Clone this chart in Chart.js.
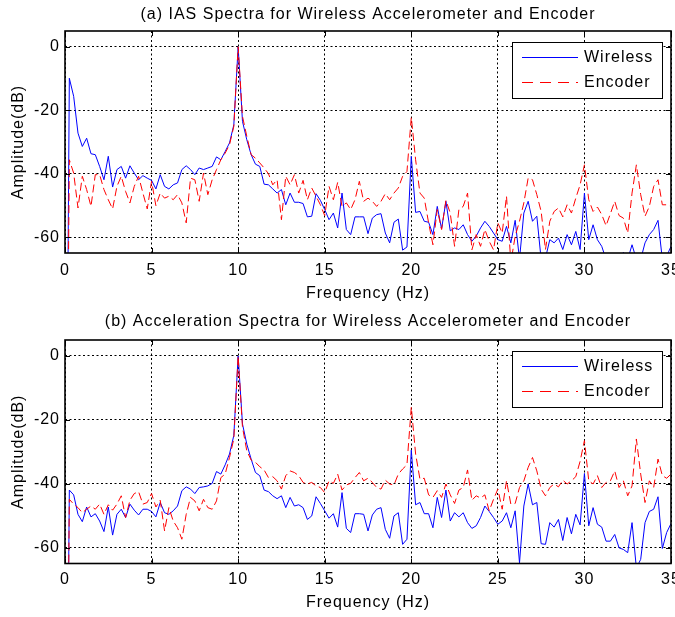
<!DOCTYPE html>
<html>
<head>
<meta charset="utf-8">
<title>IAS and acceleration spectra</title>
<script src="https://cdn.jsdelivr.net/npm/chart.js@4.4.1/dist/chart.umd.min.js"></script>
<style>
  html, body { margin: 0; padding: 0; background: #fff; }
  #wrap { position: relative; width: 675px; height: 617px; overflow: hidden; }
  canvas { position: absolute; left: 0; }
  #iasChart { top: 0; }
  #accChart { top: 310px; }
</style>
</head>
<body>
<div id="wrap">
  <canvas id="iasChart" width="675" height="310"></canvas>
  <canvas id="accChart" width="675" height="307"></canvas>
</div>
<script>
// spectrum bins: one every 0.25 Hz, 0..35 Hz (10 values per row = 2.5 Hz)
const FREQ_STEP = 0.25;
const xTicks = [0, 5, 10, 15, 20, 25, 30, 35];
const yTicks = [-60, -40, -20, 0];
const Y_MIN = -65;
const Y_MAX = 5;

// (a) IAS spectra, dB
const iasWireless = [
  -200, -9.9, -15.6, -27.2, -31.4, -28.8, -33.7, -34.0, -37.7, -41.9,
  -34.5, -44.2, -38.7, -37.7, -41.4, -37.5, -39.8, -41.9, -40.6, -41.4,
  -42.1, -44.8, -40.3, -44.0, -44.8, -43.5, -42.9, -38.7, -37.5, -38.7,
  -40.3, -38.2, -38.7, -38.2, -37.7, -34.7, -35.6, -33.0, -30.3, -24.6,
  0, -23.5, -29.3, -34.0, -37.0, -37.7, -43.3, -43.5, -44.8, -46.1,
  -45.0, -49.8, -46.1, -49.0, -49.0, -49.4, -53.6, -53.4, -46.3, -48.4,
  -51.3, -54.5, -52.4, -57.1, -46.1, -57.6, -59.2, -53.6, -53.6, -53.6,
  -58.9, -54.0, -52.9, -52.6, -58.7, -61.8, -55.3, -54.3, -64.1, -63.1,
  -34.5, -52.2, -51.9, -55.0, -55.3, -59.2, -50.3, -57.4, -48.7, -58.0,
  -57.1, -57.6, -56.1, -59.2, -61.3, -59.7, -57.1, -55.0, -56.6, -58.7,
  -60.8, -61.3, -56.6, -61.8, -54.7, -67, -52.4, -48.7, -55.0, -53.4,
  -67, -66.6, -60.8, -61.8, -60.3, -63.9, -59.2, -62.4, -58.2, -63.9,
  -46.1, -60.8, -56.1, -60.8, -62.9, -67, -67, -68, -67, -64.8,
  -67, -62.4, -67, -67, -61.8, -59.2, -57.6, -54.7, -67, -66,
  -62.9
];
const iasEncoder = [
  -200, -35.6, -39.8, -50.8, -40.8, -45.0, -50.3, -40.3, -40.3, -45.0,
  -48.2, -51.1, -44.0, -40.8, -45.6, -49.2, -44.0, -40.8, -46.1, -51.1,
  -42.4, -50.1, -46.1, -47.7, -47.1, -48.2, -46.6, -49.2, -55.5, -41.4,
  -41.9, -48.7, -39.8, -46.6, -41.9, -38.7, -35.6, -33.5, -30.9, -25.1,
  0, -21.9, -28.2, -34.0, -35.1, -36.6, -38.2, -40.0, -43.5, -41.9,
  -54.5, -40.8, -43.5, -40.3, -46.1, -42.1, -48.2, -44.5, -47.1, -49.8,
  -53.2, -44.0, -48.2, -42.7, -50.3, -49.2, -51.3, -48.2, -42.4, -48.7,
  -47.7, -48.7, -50.3, -48.7, -46.3, -48.2, -46.1, -44.5, -40.8, -39.3,
  -22.2, -35.6, -46.1, -47.7, -55.5, -62.4, -51.3, -57.6, -48.4, -52.4,
  -62.9, -51.3, -50.3, -46.1, -64.0, -59.2, -62.9, -57.6, -61.3, -64.0,
  -55.5, -58.7, -47.1, -68, -59.7, -55.0, -49.2, -41.4, -41.9, -46.6,
  -51.9, -63.9, -55.0, -51.9, -50.8, -53.6, -49.8, -52.4, -47.7, -43.5,
  -37.2, -48.2, -51.9, -50.5, -52.9, -56.4, -52.6, -48.7, -53.2, -54.0,
  -58.7, -46.1, -37.2, -46.6, -53.4, -50.3, -44.0, -41.9, -49.8, -49.8,
  -50.3
];

// (b) acceleration spectra, dB
const accWireless = [
  -200, -42.0, -43.5, -49.6, -51.9, -47.3, -50.4, -49.4, -51.7, -55.0,
  -47.3, -56.1, -49.6, -48.0, -50.6, -46.4, -48.3, -49.8, -48.0, -48.0,
  -48.7, -50.4, -45.9, -49.1, -49.6, -48.5, -47.0, -42.2, -41.0, -41.7,
  -43.1, -41.2, -41.0, -40.7, -39.9, -36.2, -37.0, -34.1, -30.7, -24.9,
  0, -21.3, -27.6, -32.3, -36.5, -37.5, -42.0, -42.5, -43.8, -44.7,
  -43.8, -47.5, -44.3, -47.0, -46.6, -47.5, -51.2, -50.1, -44.1, -46.2,
  -48.5, -50.8, -49.4, -53.6, -42.8, -54.0, -55.3, -49.4, -49.4, -49.6,
  -54.8, -49.8, -48.0, -47.5, -54.3, -57.1, -50.1, -49.1, -59.0, -57.4,
  -29.5, -46.6, -45.9, -49.4, -49.4, -53.8, -44.3, -50.6, -42.0, -51.7,
  -49.1, -50.4, -49.1, -52.2, -54.0, -53.2, -50.6, -47.0, -48.7, -50.6,
  -52.7, -51.7, -49.1, -53.8, -48.5, -64.8, -47.0, -40.1, -46.6, -45.9,
  -58.8, -59.0, -52.2, -53.6, -51.2, -57.8, -50.6, -55.7, -49.6, -52.9,
  -36.8, -53.2, -47.5, -52.7, -53.6, -58.0, -58.0, -55.9, -60.1, -60.6,
  -61.6, -52.2, -66.4, -63.7, -52.2, -48.7, -48.0, -44.1, -60.3, -55.3,
  -52.5
];
const accEncoder = [
  -200, -44.9, -46.4, -47.5, -49.1, -48.0, -47.0, -48.0, -46.4, -49.6,
  -46.6, -48.3, -46.4, -43.8, -50.6, -45.2, -43.1, -42.5, -46.4, -45.9,
  -43.1, -47.3, -45.2, -54.8, -47.5, -51.7, -53.8, -57.4, -49.6, -44.3,
  -45.4, -48.5, -44.9, -47.5, -48.0, -45.4, -38.1, -37.0, -31.8, -26.0,
  0, -22.3, -29.7, -32.6, -33.3, -34.7, -35.7, -38.1, -37.8, -39.1,
  -41.7, -37.5, -36.0, -36.5, -37.5, -39.6, -40.1, -39.6, -40.7, -41.2,
  -42.8, -39.1, -39.9, -37.0, -42.0, -40.4, -39.9, -38.1, -36.5, -39.1,
  -38.3, -39.6, -41.2, -41.7, -38.9, -40.1, -40.4, -37.0, -35.4, -34.1,
  -16.0, -30.7, -38.6, -38.3, -43.5, -44.3, -42.2, -44.3, -40.1, -43.5,
  -46.2, -42.0, -41.2, -35.7, -45.2, -43.8, -44.5, -43.5, -48.5, -44.9,
  -41.7, -48.0, -39.1, -46.4, -46.2, -41.2, -39.1, -34.9, -31.8, -36.0,
  -41.7, -43.8, -41.2, -40.1, -41.0, -38.9, -40.1, -39.1, -37.8, -33.0,
  -26.5, -39.1, -40.1, -37.5, -41.2, -39.6, -39.1, -36.0, -41.2, -39.1,
  -43.8, -40.7, -26.0, -37.0, -45.9, -39.1, -41.2, -32.3, -37.5, -38.3,
  -37.0
];

const FONT = { family: "'Liberation Sans', Arial, Helvetica, sans-serif", size: 16, weight: "normal" };

function toPoints(values) {
  return values.map((v, i) => ({ x: i * FREQ_STEP, y: v }));
}

// slightly wider text, like the old figure export
const spacingPlugin = {
  id: "spacing",
  beforeUpdate(chart) { chart.ctx.letterSpacing = "1px"; },
  beforeDraw(chart) { chart.ctx.letterSpacing = "1px"; }
};

// axes box with short inward tick marks on all four sides
const boxPlugin = {
  id: "axesBox",
  afterDatasetsDraw(chart) {
    const { ctx, chartArea: a, scales } = chart;
    ctx.save();
    ctx.strokeStyle = "#000";
    ctx.setLineDash([]);
    ctx.lineWidth = 1;
    ctx.beginPath();
    xTicks.forEach(v => {
      const px = Math.round(scales.x.getPixelForValue(v)) + 0.5;
      ctx.moveTo(px, a.bottom); ctx.lineTo(px, a.bottom - 5);
      ctx.moveTo(px, a.top); ctx.lineTo(px, a.top + 5);
    });
    yTicks.forEach(v => {
      const py = Math.round(scales.y.getPixelForValue(v)) + 0.5;
      ctx.moveTo(a.left, py); ctx.lineTo(a.left + 5, py);
      ctx.moveTo(a.right, py); ctx.lineTo(a.right - 5, py);
    });
    ctx.stroke();
    ctx.lineWidth = 1.6;
    ctx.strokeRect(a.left, a.top, a.right - a.left, a.bottom - a.top);
    ctx.restore();
  }
};

// boxed legend in the upper right corner of the axes
const legendPlugin = {
  id: "boxLegend",
  afterDatasetsDraw(chart) {
    const { ctx, chartArea: a } = chart;
    const w = 150, h = 56;
    const left = Math.round(a.right) - 159;
    const top = Math.round(a.top) + 11;
    ctx.save();
    ctx.fillStyle = "#fff";
    ctx.fillRect(left, top, w, h);
    ctx.strokeStyle = "#000";
    ctx.lineWidth = 1;
    ctx.setLineDash([]);
    ctx.strokeRect(left + 0.5, top + 0.5, w, h);
    ctx.font = `${FONT.size}px ${FONT.family}`;
    ctx.textBaseline = "middle";
    ctx.textAlign = "left";
    chart.data.datasets.forEach((ds, i) => {
      const y = top + 15 + i * 25;
      ctx.strokeStyle = ds.borderColor;
      ctx.lineWidth = 1.2;
      ctx.setLineDash(ds.legendDash || []);
      ctx.beginPath();
      ctx.moveTo(left + 10, y + 0.5);
      ctx.lineTo(left + 66, y + 0.5);
      ctx.stroke();
      ctx.fillStyle = "#000";
      ctx.fillText(ds.label, left + 72, y + 1);
    });
    ctx.restore();
  }
};

function makeChart(canvasId, titleText, wireless, encoder, lay) {
  const gridStyle = { color: "#000", lineWidth: 1, drawTicks: false };
  const dotted = { display: false, dash: [2, 2.5] };

  return new Chart(document.getElementById(canvasId), {
    type: "line",
    data: {
      datasets: [
        {
          label: "Wireless",
          data: toPoints(wireless),
          borderColor: "#0000ff",
          borderWidth: 1,
          pointRadius: 0,
          tension: 0,
          order: 2
        },
        {
          label: "Encoder",
          data: toPoints(encoder),
          borderColor: "#ff0000",
          borderWidth: 1,
          borderDash: [8, 4],
          legendDash: [11, 7],
          pointRadius: 0,
          tension: 0,
          order: 1
        }
      ]
    },
    options: {
      responsive: false,
      animation: false,
      devicePixelRatio: 1,
      layout: { padding: { left: 0, right: 4, top: 0, bottom: 0 } },
      plugins: {
        legend: { display: false },
        tooltip: { enabled: false },
        title: {
          display: true,
          text: titleText,
          fullSize: false,
          color: "#000",
          font: FONT,
          padding: { top: lay.titleTop, bottom: lay.titleBottom }
        }
      },
      scales: {
        x: {
          type: "linear",
          min: 0,
          max: 35,
          afterBuildTicks: ax => { ax.ticks = xTicks.map(v => ({ value: v })); },
          afterFit: ax => { ax.height = lay.xHeight; ax.paddingLeft = 0; ax.paddingRight = 0; },
          grid: gridStyle,
          border: dotted,
          ticks: { color: "#000", font: FONT, padding: lay.tickPad, maxRotation: 0, autoSkip: false },
          title: { display: true, text: "Frequency (Hz)", color: "#000", font: FONT, padding: { top: 0, bottom: lay.xTitlePad } }
        },
        y: {
          min: Y_MIN,
          max: Y_MAX,
          afterBuildTicks: ax => { ax.ticks = yTicks.map(v => ({ value: v })); },
          afterFit: ax => { ax.width = 65; ax.paddingTop = 0; ax.paddingBottom = 0; },
          grid: gridStyle,
          border: dotted,
          ticks: { color: "#000", font: FONT, padding: 5 },
          title: { display: true, text: "Amplitude(dB)", color: "#000", font: FONT, padding: { top: 8.5, bottom: 0 } }
        }
      }
    },
    plugins: [spacingPlugin, boxPlugin, legendPlugin]
  });
}

makeChart("iasChart", "(a) IAS Spectra for Wireless Accelerometer and Encoder",
  iasWireless, iasEncoder,
  { titleTop: 4.5, titleBottom: 7.3, xHeight: 57, tickPad: 8, xTitlePad: 7 });

makeChart("accChart", "(b) Acceleration Spectra for Wireless Accelerometer and Encoder",
  accWireless, accEncoder,
  { titleTop: 2, titleBottom: 8.8, xHeight: 53.5, tickPad: 6, xTitlePad: 4.4 });
</script>
</body>
</html>
